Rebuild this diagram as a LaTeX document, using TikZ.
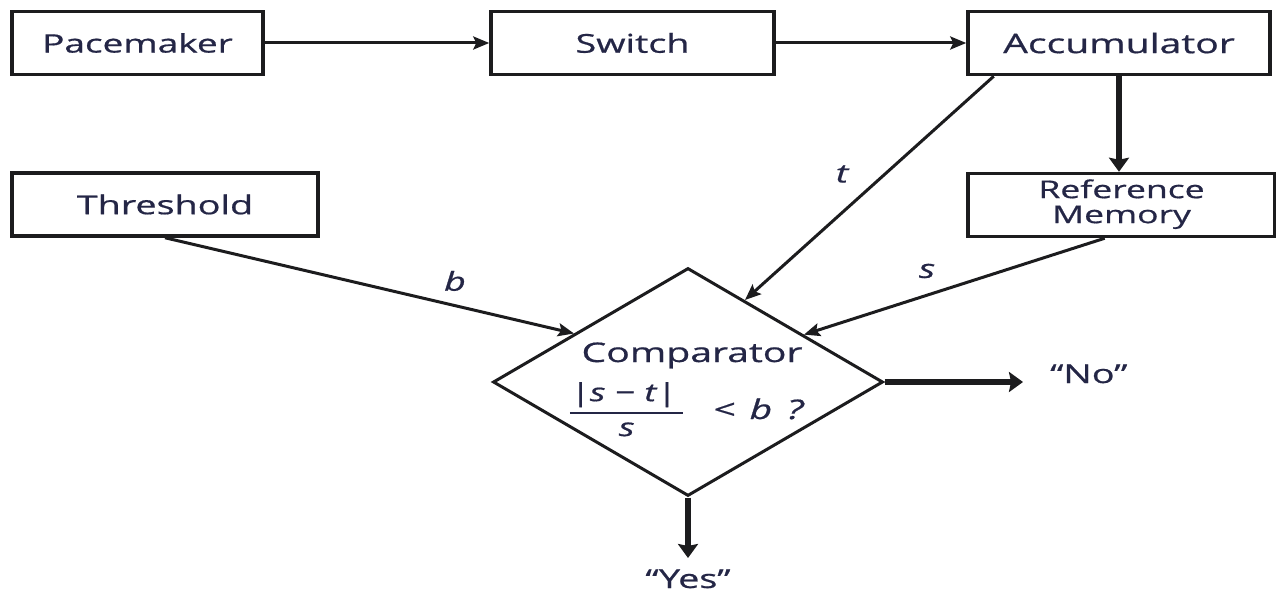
\documentclass[tikz,border=0pt]{standalone}
\usepackage{amsmath}
\usepackage{graphicx}
\usepackage{fontspec}
\setmainfont{Open Sans}[FakeBold=0.6]
\usetikzlibrary{shapes.geometric,arrows.meta,calc}
\definecolor{ink}{RGB}{28,28,30}
\definecolor{txt}{RGB}{36,38,70}
% the lettering of this chart is set wide
\newcommand{\wide}[1]{\scalebox{1.45}[1]{#1}}

\begin{document}
\begin{tikzpicture}[x=1pt,y=-1pt,
  every node/.style={text=txt},
  box/.style={draw=ink,line width=3.5pt,minimum width=#1,minimum height=63pt,
    inner sep=0pt,font=\fontsize{26}{28}\selectfont},
  conn/.style={draw=ink,line width=3pt,-{Stealth[length=16pt,width=13pt,inset=3pt]}},
  heavy/.style={draw=ink,line width=5.5pt,-{Stealth[length=14pt,width=20pt,inset=2pt]}},
  lbl/.style={font=\fontsize{26}{28}\selectfont\itshape,inner sep=0pt},
  plain/.style={font=\fontsize{26}{28}\selectfont,inner sep=0pt}
]
\useasboundingbox (0,0) rectangle (1276,593);

% blocks
\node[box=251pt,font=\fontsize{25.5}{28}\selectfont] (pace) at (137.5,43) {\wide{Pacemaker}};
\node[box=283pt] (sw)   at (632.5,43) {\wide{Switch}};
\node[box=302pt,font=\fontsize{27}{28}\selectfont] (acc)  at (1119,43)  {\wide{Accumulator}};
\node[box=306pt] (thr)  at (165,204.5) {\wide{Threshold}};
\node[box=307pt,font=\fontsize{24.5}{25}\selectfont] (ref) at (1121.5,205)
  {\wide{\begin{tabular}{@{}c@{}}Reference\\Memory\end{tabular}}};

% comparator diamond
\node[diamond,draw=ink,line width=3pt,minimum width=390pt,minimum height=228pt,
  inner sep=0pt] (cmp) at (688,382) {};
\node[plain,anchor=base,font=\fontsize{27}{28}\selectfont] (cmpname) at (692,362) {\wide{Comparator}};
\node[plain,anchor=base west,font=\fontsize{25}{28}\selectfont] (test) at (568,419)
  {\wide{$\genfrac{}{}{1.6pt}{0}{\hbox{\itshape |s − t|\kern5pt}}{\hbox{\itshape s}}$%
   \hspace{19pt}{\fontsize{27}{28}\selectfont\itshape <\hspace{3pt} b\hspace{3pt} ?}}};

% signal flow
\draw[conn] (pace) -- (sw);
\draw[conn] (sw) -- (acc);
\draw[heavy] (acc.south) -- (acc.south |- ref.north);
\draw[conn] ($(acc.south west)!0.09!(acc.south east)$) -- ($(cmp.north)!0.29!(cmp.east)$);
\draw[conn] ($(ref.south west)!0.446!(ref.south east)$) -- ($(cmp.north)!0.59!(cmp.east)$);
\draw[conn] (thr.south) -- ($(cmp.west)!0.42!(cmp.north)$);

% edge labels
\node[lbl] (tl) at (842,174) {\wide{t}};
\node[lbl] (sl) at (927,271) {\wide{s}};
\node[lbl] (bl) at (455,281) {\wide{b}};

% outcomes
\coordinate (yesend) at (688,558);
\coordinate (noend) at (1023,382);
\node[plain,anchor=base] (yes) at (688,588) {\wide{“Yes”}};
\node[plain,anchor=base west] (no) at (1050,383) {\wide{“No”}};
\draw[heavy] (cmp.south) -- (yesend);
\draw[heavy] (cmp.east) -- (noend);
\end{tikzpicture}
\end{document}
